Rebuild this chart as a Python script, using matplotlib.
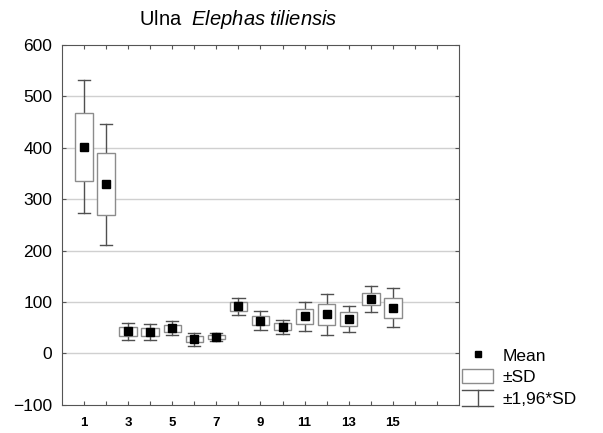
import numpy as np
import matplotlib.pyplot as plt
from matplotlib.patches import Rectangle
from matplotlib.lines import Line2D
from matplotlib.legend_handler import HandlerBase

plt.rcParams['font.family'] = ['Liberation Sans', 'DejaVu Sans']
plt.rcParams['mathtext.fontset'] = 'custom'
plt.rcParams['mathtext.rm'] = 'Liberation Sans'
plt.rcParams['mathtext.it'] = 'Liberation Sans:italic'

# group index, mean and standard deviation
groups = np.arange(1, 16)
means = [402, 329, 43, 41, 49, 28, 32, 92, 64, 52, 72, 76, 67, 106, 89]
sds = [66, 60, 8.5, 8, 7, 6.5, 4, 8.5, 9, 7, 14, 20.5, 13, 12.5, 19.5]

box_w = 0.8
cap_w = 0.55
box_color = '#8c8c8c'
whisker_color = '#505050'


class WhiskerHandler(HandlerBase):
    def create_artists(self, legend, orig_handle, xdescent, ydescent,
                       width, height, fontsize, trans):
        x0, x1 = -xdescent, -xdescent + width
        xm = (x0 + x1) / 2
        y0, y1 = -ydescent - 0.1 * height, -ydescent + 1.05 * height
        kw = dict(color=whisker_color, lw=1.0, transform=trans)
        return [Line2D([x0, x1], [y1, y1], **kw),
                Line2D([xm, xm], [y0, y1], **kw),
                Line2D([x0, x1], [y0, y0], **kw)]


fig = plt.figure(figsize=(6.03, 4.33), dpi=100)
ax = fig.add_axes([0.103, 0.065, 0.658, 0.831])

for x, m, s in zip(groups, means, sds):
    w = 1.96 * s
    ax.plot([x, x], [m + s, m + w], color=whisker_color, lw=1.0, zorder=2)
    ax.plot([x, x], [m - s, m - w], color=whisker_color, lw=1.0, zorder=2)
    ax.plot([x - cap_w / 2, x + cap_w / 2], [m + w, m + w], color=whisker_color, lw=1.0, zorder=2)
    ax.plot([x - cap_w / 2, x + cap_w / 2], [m - w, m - w], color=whisker_color, lw=1.0, zorder=2)
    ax.add_patch(Rectangle((x - box_w / 2, m - s), box_w, 2 * s, facecolor='white',
                           edgecolor=box_color, lw=1.0, zorder=3))
ax.plot(groups, means, 's', color='black', markersize=5.3, zorder=4)

ax.set_xlim(0, 18)
ax.set_ylim(-100, 600)
ax.set_xticks(np.arange(1, 18))
ax.set_xticklabels([str(i) if i % 2 == 1 and i < 17 else '' for i in range(1, 18)],
                   fontsize=9.5, fontweight='bold')
ax.set_yticks(np.arange(-100, 601, 100))
ax.tick_params(axis='y', labelsize=12.5)
ax.tick_params(direction='in', top=True, right=True, length=3, color='#555555', pad=9)
ax.tick_params(axis='y', pad=7)
for y in range(0, 501, 100):
    ax.axhline(y, color='#d0d0d0', lw=1.0, zorder=1)
for sp in ax.spines.values():
    sp.set_color('#555555')

fig.text(0.395, 0.955, r'Ulna  $\it{Elephas\ tiliensis}$', fontsize=14.5,
         ha='center', va='center')

h_mean = Line2D([], [], marker='s', color='black', ls='none', markersize=4.5)
h_sd = Rectangle((0, 0), 1, 1, facecolor='white', edgecolor=box_color, lw=1.0)
h_wh = object()
fig.legend([h_mean, h_sd, h_wh], ['Mean', '\u00b1SD', '\u00b11,96*SD'],
           handler_map={object: WhiskerHandler()},
           loc='lower left', bbox_to_anchor=(0.755, 0.045), frameon=False,
           fontsize=12.5, handlelength=1.8, handleheight=0.9, handletextpad=0.5,
           labelspacing=0.3, borderaxespad=0)

fig.savefig('out.png', dpi=100)
